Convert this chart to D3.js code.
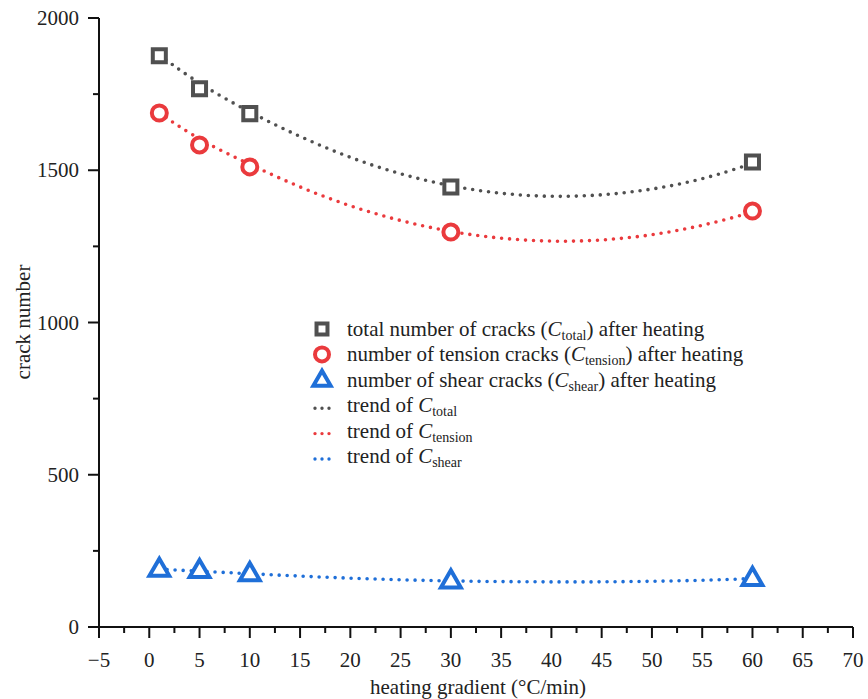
<!DOCTYPE html>
<html><head><meta charset="utf-8">
<script src="https://cdn.jsdelivr.net/npm/d3@7"></script>
<style>body{margin:0;background:#fff}svg{display:block}text{font-family:"Liberation Serif","Times New Roman",serif;fill:#222}</style>
</head><body><svg id="c" width="868" height="699"></svg>
<script>
const gradient = [1, 5, 10, 30, 60];
const totalCracks = [1876, 1768, 1686, 1445, 1527];
const tensionCracks = [1688, 1583, 1511, 1297, 1366];
const shearCracks = [190, 186, 176, 152, 160];
const trendX = [1, 5, 10, 15, 20, 25, 30, 35, 40, 45, 50, 55, 60];
const trendTotal = [1878, 1782, 1690, 1609, 1540, 1486, 1447, 1422, 1412, 1417, 1436, 1469, 1522];
const trendTension = [1688, 1598, 1519, 1443, 1381, 1333, 1297, 1275, 1265, 1269, 1286, 1317, 1362];
const trendShear = [190, 183, 175, 167, 160, 155, 151, 149, 148, 148, 150, 153, 159];
const xTicks = [-5,0,5,10,15,20,25,30,35,40,45,50,55,60,65,70];
const yTicks = [0,500,1000,1500,2000];
const colors = {total:"#505050", tension:"#ea3a3d", shear:"#1f6fd8"};

const svg = d3.select("#c");
const x = d3.scaleLinear().domain([-5,70]).range([99,853]);
const y = d3.scaleLinear().domain([0,2000]).range([627,18]);

// axes
const xAxis = svg.append("g").attr("transform","translate(0,627)");
xAxis.append("line").attr("x1",x(-5)).attr("x2",x(70)).attr("stroke","#111").attr("stroke-width",2);
xAxis.selectAll(".mj").data(xTicks).join("line").attr("x1",d=>x(d)).attr("x2",d=>x(d)).attr("y1",0).attr("y2",11).attr("stroke","#111").attr("stroke-width",2);
xAxis.selectAll(".mn").data(d3.range(-2.5,70,5)).join("line").attr("x1",d=>x(d)).attr("x2",d=>x(d)).attr("y1",0).attr("y2",6).attr("stroke","#111").attr("stroke-width",2);
xAxis.selectAll("text").data(xTicks).join("text").attr("x",d=>x(d)).attr("y",40).attr("text-anchor","middle").attr("font-size",21).text(d=>d<0?"\u2212"+Math.abs(d):d);

const yAxis = svg.append("g");
yAxis.append("line").attr("x1",99).attr("x2",99).attr("y1",y(0)).attr("y2",y(2000)).attr("stroke","#111").attr("stroke-width",2);
yAxis.selectAll(".mj").data(yTicks).join("line").attr("x1",88).attr("x2",99).attr("y1",d=>y(d)).attr("y2",d=>y(d)).attr("stroke","#111").attr("stroke-width",2);
yAxis.selectAll(".mn").data([250,750,1250,1750]).join("line").attr("x1",93).attr("x2",99).attr("y1",d=>y(d)).attr("y2",d=>y(d)).attr("stroke","#111").attr("stroke-width",2);
yAxis.selectAll("text").data(yTicks).join("text").attr("x",79).attr("y",d=>y(d)+7).attr("text-anchor","end").attr("font-size",21).text(d=>d);

svg.append("text").attr("x",478).attr("y",694).attr("text-anchor","middle").attr("font-size",21).text("heating gradient (\u00B0C/min)");
svg.append("text").attr("transform","translate(30,322) rotate(-90)").attr("text-anchor","middle").attr("font-size",21).text("crack number");

// trend lines
const line = d3.line().x(d=>x(d[0])).y(d=>y(d[1])).curve(d3.curveBasis);
function trend(vals,col){
  const pts = trendX.map((v,i)=>[v,vals[i]]);
  svg.append("path").attr("d",line(pts)).attr("fill","none").attr("stroke",col).attr("stroke-width",3.6).attr("stroke-linecap","round").attr("stroke-dasharray","0 8");
}
trend(trendTotal,colors.total);
trend(trendTension,colors.tension);
trend(trendShear,colors.shear);

// markers
const sq = d3.symbol().type(d3.symbolSquare).size(170);
const tri = d3.symbol().type(d3.symbolTriangle).size(170);
svg.selectAll(".sq").data(gradient).join("path").attr("d",sq).attr("transform",(d,i)=>`translate(${x(d)},${y(totalCracks[i])})`).attr("fill","#fff").attr("stroke",colors.total).attr("stroke-width",4);
svg.selectAll(".ci").data(gradient).join("circle").attr("cx",d=>x(d)).attr("cy",(d,i)=>y(tensionCracks[i])).attr("r",7.5).attr("fill","#fff").attr("stroke",colors.tension).attr("stroke-width",4);
svg.selectAll(".tr").data(gradient).join("path").attr("d",tri).attr("transform",(d,i)=>`translate(${x(d)},${y(shearCracks[i])+1})`).attr("fill","#fff").attr("stroke",colors.shear).attr("stroke-width",4);

// legend
const lg = svg.append("g").attr("transform","translate(322,329)");
const rowH = 25.4;
lg.append("path").attr("d",d3.symbol().type(d3.symbolSquare).size(120)).attr("fill","#fff").attr("stroke",colors.total).attr("stroke-width",4);
lg.append("circle").attr("cx",0).attr("cy",rowH).attr("r",7).attr("fill","#fff").attr("stroke",colors.tension).attr("stroke-width",4);
lg.append("path").attr("d",d3.symbol().type(d3.symbolTriangle).size(130)).attr("transform",`translate(0,${2*rowH+1})`).attr("fill","#fff").attr("stroke",colors.shear).attr("stroke-width",4);
[colors.total,colors.tension,colors.shear].forEach((c,i)=>{
  lg.append("line").attr("x1",-7).attr("x2",9).attr("y1",(3+i)*rowH+3).attr("y2",(3+i)*rowH+3).attr("stroke",c).attr("stroke-width",3.4).attr("stroke-linecap","round").attr("stroke-dasharray","0 7");
});
const items = [
  ["total number of cracks (","total",") after heating"],
  ["number of tension cracks (","tension",") after heating"],
  ["number of shear cracks (","shear",") after heating"],
  ["trend of ","total",""],
  ["trend of ","tension",""],
  ["trend of ","shear",""]
];
items.forEach((it,i)=>{
  const t = lg.append("text").attr("x",25).attr("y",i*rowH+7).attr("font-size",21);
  t.append("tspan").text(it[0]);
  t.append("tspan").attr("font-style","italic").text("C");
  t.append("tspan").attr("font-size",14).attr("dy",4).text(it[1]);
  if(it[2]) t.append("tspan").attr("dy",-4).text(it[2]);
});
</script></body></html>
